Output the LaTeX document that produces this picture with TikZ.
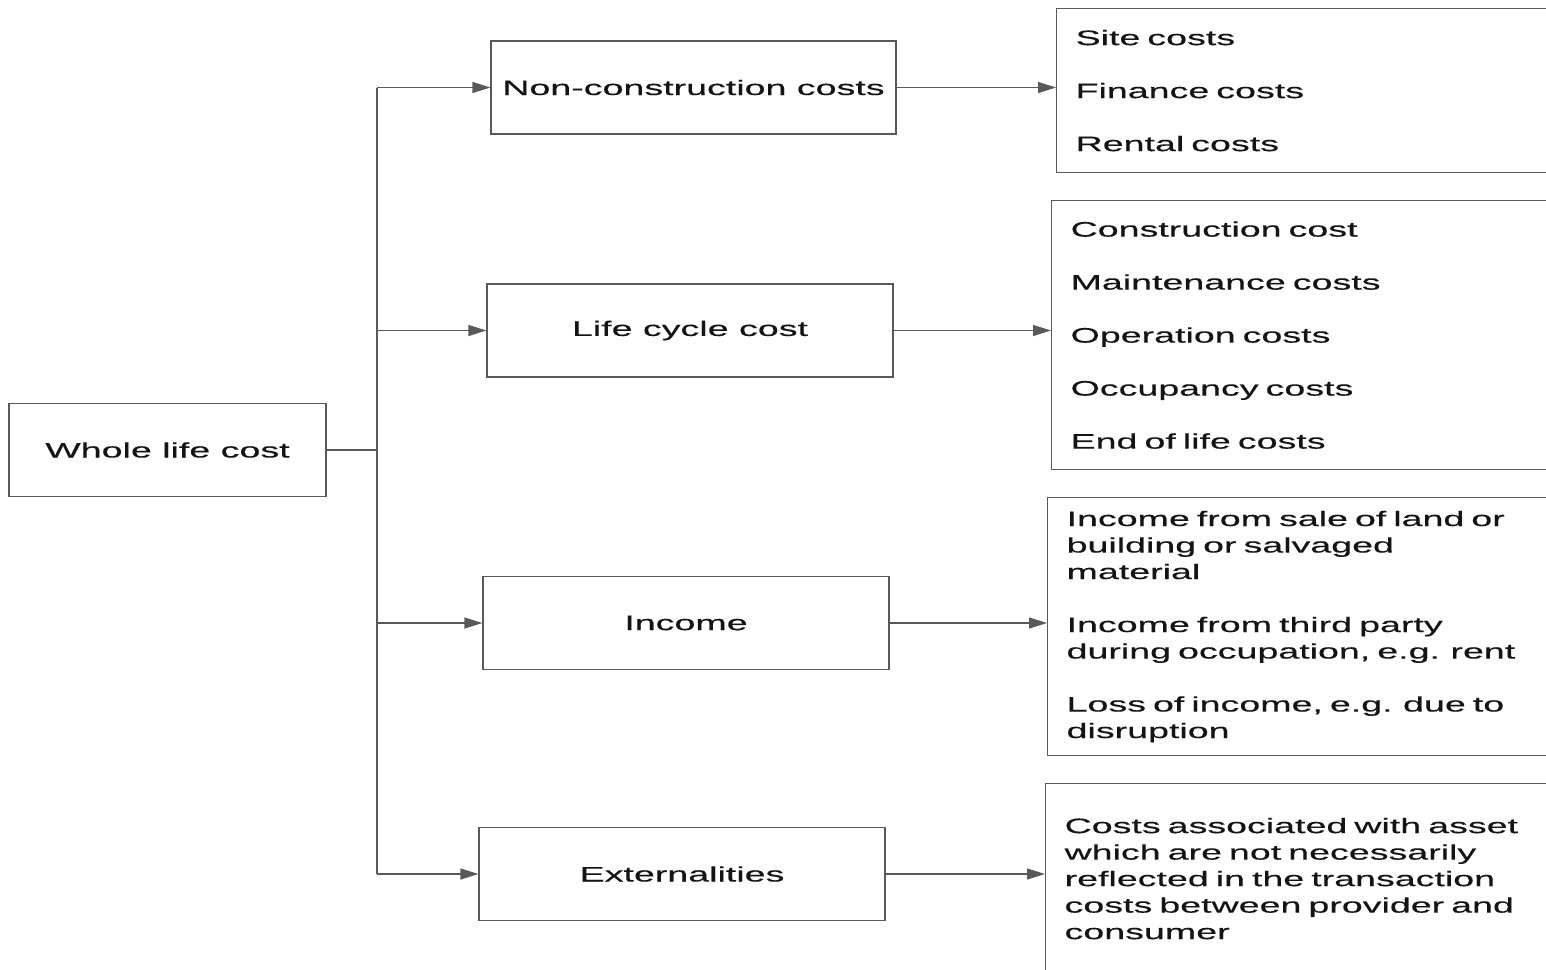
\documentclass[tikz,border=0pt]{standalone}
\usepackage{fontspec}
\setmainfont{Liberation Sans}[FakeStretch=1.79,FakeBold=0.3]
\usetikzlibrary{arrows.meta}
\begin{document}
\begin{tikzpicture}[x=0.5pt,y=-0.5pt,
  line/.style={draw=black!65, line width=0.6pt},
  txt/.style={font=\fontsize{10.5}{13.25}\selectfont, text=black!92},
  lbox/.style={line, txt, rectangle, minimum height=46.5pt, inner sep=0pt},
  rbox/.style={line, txt, rectangle, anchor=north west, align=left, inner xsep=9.5pt, inner ysep=0pt, text width=263pt},
  arr/.style={line, -{Triangle[length=9pt,width=5.5pt]}}]
\useasboundingbox (0,0) rectangle (1546,969);
% left column
\node[lbox, minimum width=158.5pt] (wlc) at (167.5,450) {Whole life cost};
\node[lbox, minimum width=202.5pt] (ncc) at (693.5,87.5) {Non-construction costs};
\node[lbox, minimum width=203pt] (lcc) at (690,330.5) {Life cycle cost};
\node[lbox, minimum width=203pt] (inc) at (686,623) {Income};
\node[lbox, minimum width=203pt] (ext) at (682,874) {Externalities};
% right column
\node[rbox, minimum height=82pt] (r1) at (1056,8) {Site costs\\[13.25pt]Finance costs\\[13.25pt]Rental costs};
\node[rbox, minimum height=134.5pt] (r2) at (1051,200) {Construction cost\\[13.25pt]Maintenance costs\\[13.25pt]Operation costs\\[13.25pt]Occupancy costs\\[13.25pt]End of life costs};
\node[rbox, minimum height=129pt] (r3) at (1047,497) {Income from sale of land or\\building or salvaged\\material\\[13.25pt]Income from third party\\during occupation, e.g. rent\\[13.25pt]Loss of income, e.g. due to\\disruption};
\node[rbox, minimum height=95pt] (r4) at (1045,783) {Costs associated with asset\\which are not necessarily\\reflected in the transaction\\costs between provider and\\consumer};
% trunk
\coordinate (tr) at (377,450);
\draw[line] (ncc.west -| tr) -- (ext.west -| tr);
\draw[line] (wlc.east) -- (tr);
\foreach \n in {ncc,lcc,inc,ext} \draw[arr] (\n.west -| tr) -- (\n.west);
% to right boxes
\draw[arr] (ncc.east) -- (ncc.east -| r1.west);
\draw[arr] (lcc.east) -- (lcc.east -| r2.west);
\draw[arr] (inc.east) -- (inc.east -| r3.west);
\draw[arr] (ext.east) -- (ext.east -| r4.west);
\end{tikzpicture}
\end{document}
